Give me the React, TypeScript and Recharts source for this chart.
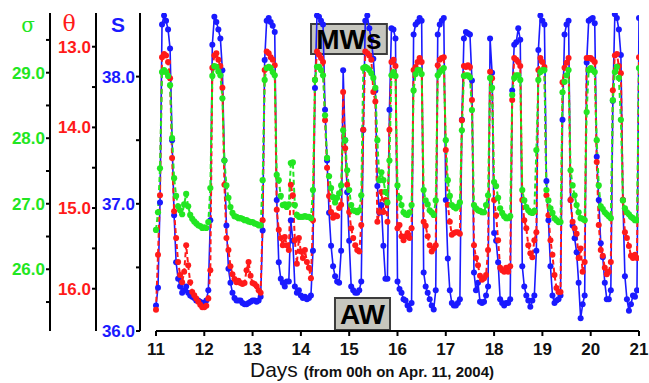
import React from 'react';
import { ComposedChart, Line, XAxis, YAxis, ReferenceLine, ReferenceArea } from 'recharts';

const FONT = "Arial, 'Liberation Sans', Helvetica, sans-serif";
const BLUE = '#1a1aff';
const RED = '#ff1a1a';
const GREEN = '#22e622';

// hourly samples starting at 00h on day 11
const START_DAY = 11;
const HOURS_PER_DAY = 24;

// Salinity S
const SALINITY = [
  36.20, 36.34, 37.01, 38.41, 38.48, 38.44, 38.37, 38.22, 37.50, 36.91, 36.54, 36.41, 36.35, 36.30, 36.32, 36.35, 36.30, 36.28, 36.27, 36.26, 36.24, 36.24, 36.23, 36.22,
  36.22, 36.24, 36.32, 36.87, 38.25, 38.47, 38.43, 38.37, 38.30, 38.05, 37.34, 36.83, 36.49, 36.38, 36.30, 36.26, 36.24, 36.24, 36.24, 36.22, 36.21, 36.21, 36.22, 36.23,
  36.24, 36.24, 36.23, 36.24, 36.27, 36.79, 38.13, 38.44, 38.46, 38.43, 38.40, 38.35, 37.03, 36.54, 36.41, 36.38, 36.35, 36.39, 36.39, 36.87, 36.71, 36.35, 36.30, 36.32,
  36.28, 36.26, 36.27, 36.25, 36.26, 36.28, 36.63, 37.91, 38.48, 38.47, 38.44, 38.41, 37.74, 37.34, 36.93, 36.67, 36.51, 36.43, 36.39, 36.38, 36.63, 38.05, 37.50, 37.09,
  36.71, 36.35, 36.32, 36.30, 36.30, 36.32, 36.39, 37.58, 38.44, 38.48, 38.38, 38.29, 38.14, 37.89, 37.14, 36.93, 36.99, 36.67, 36.41, 36.41, 37.74, 38.38, 38.37, 38.30,
  36.39, 36.33, 36.30, 36.25, 36.24, 36.20, 36.17, 36.22, 38.33, 38.41, 38.43, 38.46, 38.44, 36.46, 36.35, 36.30, 36.25, 36.20, 36.17, 36.32, 38.33, 38.41, 38.44,
  38.46, 37.03, 36.57, 36.32, 36.22, 36.20, 36.20, 36.22, 36.25, 37.66, 38.30, 38.35, 38.34, 38.33, 37.97, 36.46, 36.32, 36.38, 36.23, 36.22, 36.23, 36.28, 36.35, 38.30,
  38.03, 36.77, 36.71, 36.54, 36.25, 36.22, 36.20, 36.22, 36.22, 36.25, 37.89, 38.25, 38.27, 38.38, 38.29, 36.51, 36.35, 36.28, 36.24, 36.19, 36.24, 36.28, 36.63, 38.21,
  38.48, 38.44, 38.41, 37.18, 36.87, 36.51, 36.28, 36.22, 36.24, 36.25, 36.28, 37.66, 38.33, 38.41, 38.44, 37.03, 36.83, 36.73, 36.62, 36.38, 36.10, 36.21, 36.28, 38.11,
  38.44, 38.45, 38.46, 38.42, 37.37, 37.03, 36.69, 36.58, 36.38, 36.25, 36.25, 36.32, 37.81, 38.49, 38.46, 38.37, 38.17, 37.03, 36.43, 36.25, 36.16, 36.21, 36.28, 36.27, 36.32, 38.46,
];

// Potential temperature theta
const THETA = [
  16.26, 15.58, 14.84, 13.13, 13.09, 13.11, 13.19, 13.39, 14.38, 15.04, 15.37, 15.67, 15.83, 15.92, 15.79, 15.46, 15.71, 15.92, 16.04, 16.08, 16.12, 16.16, 16.20, 16.23,
  16.23, 16.21, 16.12, 15.77, 13.26, 13.11, 13.08, 13.16, 13.24, 13.51, 14.71, 15.37, 15.52, 15.72, 15.82, 15.88, 15.92, 15.90, 15.93, 15.94, 15.93, 15.77, 15.67, 15.84,
  15.93, 15.94, 15.97, 16.02, 16.05, 15.15, 13.29, 13.06, 13.08, 13.13, 13.16, 13.23, 15.02, 15.27, 15.37, 15.46, 15.36, 15.46, 15.52, 14.71, 14.84, 15.40, 15.69, 15.37,
  15.54, 15.62, 15.52, 15.67, 15.74, 15.87, 15.15, 13.41, 13.06, 13.10, 13.14, 13.19, 13.91, 14.50, 14.85, 15.05, 15.12, 15.09, 15.10, 15.00, 14.96, 13.56, 14.26, 14.71,
  15.05, 15.25, 15.37, 15.46, 15.52, 15.54, 15.21, 14.03, 13.06, 13.08, 13.11, 13.16, 13.56, 13.68, 15.17, 15.05, 14.80, 15.05, 14.90, 15.17, 14.03, 13.19, 13.16, 13.24,
  15.25, 15.21, 15.35, 15.40, 15.35, 15.31, 15.37, 15.25, 13.29, 13.25, 13.19, 13.14, 13.19, 15.17, 15.22, 15.35, 15.46, 15.54, 15.50, 15.46, 13.23, 13.16, 13.14,
  13.13, 14.28, 14.96, 15.17, 15.33, 15.31, 15.30, 15.30, 15.32, 13.91, 13.24, 13.25, 13.23, 13.25, 13.66, 15.46, 15.62, 15.71, 15.84, 15.89, 15.87, 15.83, 15.52, 13.31,
  13.39, 14.90, 15.09, 15.40, 15.74, 15.77, 15.79, 15.74, 15.79, 15.72, 13.66, 13.14, 13.16, 13.19, 13.24, 14.90, 15.15, 15.25, 15.46, 15.56, 15.61, 15.40, 15.30, 13.29,
  13.14, 13.19, 13.25, 14.84, 15.09, 15.40, 15.58, 15.83, 15.99, 16.04, 16.04, 13.44, 13.26, 13.20, 13.14, 14.90, 15.17, 15.25, 15.32, 15.62, 15.50, 15.79, 15.67, 13.14,
  13.14, 13.14, 13.16, 13.19, 14.43, 15.21, 15.52, 15.59, 15.74, 15.82, 15.79, 15.67, 13.54, 13.11, 13.09, 13.24, 13.33, 14.90, 15.30, 15.37, 15.47, 15.59, 15.62, 15.58, 15.62, 13.13,
];

// Potential density anomaly sigma
const SIGMA = [
  26.60, 26.87, 27.54, 29.01, 29.04, 29.01, 28.95, 28.81, 28.00, 27.39, 27.12, 26.96, 26.90, 26.84, 26.99, 27.15, 26.96, 26.83, 26.77, 26.73, 26.70, 26.67, 26.66, 26.63,
  26.64, 26.63, 26.72, 27.24, 28.95, 29.10, 29.09, 29.02, 28.96, 28.61, 27.66, 27.28, 27.09, 26.95, 26.86, 26.81, 26.80, 26.78, 26.78, 26.77, 26.75, 26.75, 26.73, 26.72,
  26.72, 26.70, 26.69, 26.67, 26.67, 27.36, 28.89, 29.07, 29.09, 29.07, 29.01, 28.96, 27.44, 27.36, 27.12, 26.98, 26.99, 26.95, 26.99, 27.62, 27.63, 26.98, 26.83, 26.80,
  26.80, 26.80, 26.81, 26.80, 26.80, 26.78, 27.21, 28.89, 29.09, 29.09, 29.04, 28.96, 28.35, 27.70, 27.42, 27.24, 27.10, 27.02, 27.09, 27.16, 27.28, 28.12, 27.97, 27.51,
  27.21, 26.98, 26.90, 26.89, 26.87, 26.90, 27.13, 29.07, 29.09, 29.07, 29.04, 28.99, 28.92, 28.77, 27.97, 27.36, 27.48, 27.36, 27.18, 27.02, 27.66, 28.96, 29.01, 28.95,
  27.28, 27.09, 26.98, 26.87, 26.84, 26.83, 26.87, 26.98, 28.73, 28.98, 29.04, 29.04, 28.98, 27.21, 27.05, 26.99, 26.90, 26.87, 26.83, 27.05, 28.96, 29.01, 29.04,
  29.07, 27.97, 27.36, 27.12, 26.98, 26.95, 26.93, 26.96, 27.02, 28.12, 28.95, 28.96, 28.96, 28.93, 28.43, 26.98, 26.93, 26.90, 26.89, 26.87, 26.87, 26.98, 27.13, 28.92,
  28.77, 27.33, 27.27, 27.09, 26.93, 26.86, 26.81, 26.78, 26.78, 26.81, 28.66, 28.92, 28.96, 28.96, 28.89, 27.21, 27.05, 26.95, 26.90, 26.87, 26.86, 26.89, 27.82, 28.89,
  29.01, 29.04, 29.04, 27.21, 27.05, 26.93, 26.86, 26.78, 26.75, 26.72, 26.72, 28.70, 28.86, 28.96, 29.04, 27.51, 27.28, 27.13, 26.98, 26.87, 26.78, 26.77, 26.75, 28.40,
  29.04, 29.07, 29.04, 29.01, 27.97, 27.28, 26.96, 26.92, 26.87, 26.84, 26.81, 26.78, 28.58, 29.01, 29.09, 28.92, 28.28, 27.05, 26.93, 26.87, 26.84, 26.80, 26.78, 26.75, 26.75, 29.07,
];

const DAY_TICKS = [11, 12, 13, 14, 15, 16, 17, 18, 19, 20, 21];
const S_TICKS = [36, 36.5, 37, 37.5, 38];
const THETA_TICKS = [13, 13.5, 14, 14.5, 15, 15.5, 16];
const SIGMA_TICKS = [25.5, 26, 26.5, 27, 27.5, 28, 28.5, 29, 29.5];

const X_DOMAIN = [10.669, 21];
const S_DOMAIN = [36, 38.5];
const THETA_DOMAIN = [12.582, 16.524];
const SIGMA_DOMAIN = [25.058, 29.911];

// annotation boxes (in day / salinity units)
const MWS_BOX = { x1: 14.21, x2: 15.78, y1: 38.178, y2: 38.414 };
const AW_BOX = { x1: 14.706, x2: 15.845, y1: 36.008, y2: 36.259 };

const data = SALINITY.map((s, i) => ({
  t: START_DAY + i / HOURS_PER_DAY,
  s,
  theta: THETA[i],
  sigma: SIGMA[i],
}));

const fmt = (v: number) => (Math.abs(v - Math.round(v)) < 1e-6 ? v.toFixed(1) : '');

const DaysLabel = (props: any) => {
  const vb = props.viewBox || { x: 140, y: 331, width: 499, height: 52 };
  const x = vb.x + 110;
  const y = vb.y + vb.height - 6;
  return (
    <text x={x} y={y} textAnchor="start" fontFamily={FONT} fill="#111">
      <tspan fontSize={21}>Days </tspan>
      <tspan fontSize={15} fontWeight="bold">(from 00h on Apr. 11, 2004)</tspan>
    </text>
  );
};

const axisLine = { stroke: '#000', strokeWidth: 2 };
const tickFont = { fontSize: 17, fontWeight: 'bold', fontFamily: FONT };

export default function App() {
  return (
    <div style={{ position: 'absolute', left: 0, top: 0, width: 649, height: 383, background: '#fff' }}>
      <ComposedChart width={649} height={383} data={data} margin={{ top: 13, right: 10, bottom: 0, left: 0 }}>
        <XAxis
          dataKey="t"
          type="number"
          domain={X_DOMAIN}
          allowDataOverflow
          ticks={DAY_TICKS}
          interval={0}
          height={52}
          axisLine={false}
          tickLine={{ stroke: '#000', strokeWidth: 2 }}
          tickSize={5}
          tickMargin={7}
          tick={{ fill: '#111', ...tickFont }}
          label={{ content: (p: any) => <DaysLabel {...p} /> }}
        />
        <YAxis
          yAxisId="y1S"
          type="number"
          domain={S_DOMAIN}
          allowDataOverflow
          ticks={S_TICKS}
          interval={0}
          width={44}
          tickFormatter={fmt}
          axisLine={axisLine}
          tickLine={axisLine}
          tickSize={4}
          tickMargin={1}
          tick={{ fill: BLUE, ...tickFont }}
          label={{ value: 'S', position: 'insideTop', offset: 4, fill: BLUE, fontSize: 21, fontWeight: 'bold', fontFamily: FONT }}
        />
        <YAxis
          yAxisId="y2Theta"
          type="number"
          reversed
          domain={THETA_DOMAIN}
          allowDataOverflow
          ticks={THETA_TICKS}
          interval={0}
          width={46}
          tickFormatter={fmt}
          axisLine={axisLine}
          tickLine={axisLine}
          tickSize={4}
          tickMargin={1}
          tick={{ fill: RED, ...tickFont }}
          label={{ value: 'θ', position: 'insideTop', offset: 2, fill: RED, fontSize: 22, fontFamily: "'DejaVu Serif', serif", dx: -4 }}
        />
        <YAxis
          yAxisId="y3Sigma"
          type="number"
          domain={SIGMA_DOMAIN}
          allowDataOverflow
          ticks={SIGMA_TICKS}
          interval={0}
          width={50}
          tickFormatter={fmt}
          axisLine={axisLine}
          tickLine={axisLine}
          tickSize={4}
          tickMargin={1}
          tick={{ fill: GREEN, ...tickFont }}
          label={{ value: 'σ', position: 'insideTop', offset: 5, fill: GREEN, fontSize: 20, fontFamily: "'DejaVu Serif', serif", dx: 3 }}
        />
        <ReferenceLine
          yAxisId="y1S"
          segment={[{ x: 11, y: 36 }, { x: 21, y: 36 }]}
          stroke="#000"
          strokeWidth={2}
          ifOverflow="visible"
        />
        <Line
          yAxisId="y1S"
          dataKey="s"
          type="linear"
          stroke={BLUE}
          strokeWidth={1.6}
          dot={{ r: 3, fill: BLUE, stroke: BLUE, strokeWidth: 0 }}
          activeDot={false}
          isAnimationActive={false}
        />
        <Line
          yAxisId="y2Theta"
          dataKey="theta"
          type="linear"
          stroke={RED}
          strokeWidth={2}
          strokeDasharray="5 3"
          dot={{ r: 3, fill: RED, stroke: RED, strokeWidth: 0 }}
          activeDot={false}
          isAnimationActive={false}
        />
        <Line
          yAxisId="y3Sigma"
          dataKey="sigma"
          type="linear"
          stroke={GREEN}
          strokeWidth={2}
          strokeDasharray="5 3"
          dot={{ r: 3.1, fill: GREEN, stroke: GREEN, strokeWidth: 0 }}
          activeDot={false}
          isAnimationActive={false}
        />
        <ReferenceArea
          yAxisId="y1S"
          {...MWS_BOX}
          fill="#c6c6be"
          fillOpacity={1}
          stroke="#3c3c3c"
          strokeWidth={2}
          ifOverflow="visible"
          label={{ value: 'MWs', position: 'center', fill: '#000', fontSize: 28, fontWeight: 'bold', fontFamily: FONT }}
        />
        <ReferenceArea
          yAxisId="y1S"
          {...AW_BOX}
          fill="#c6c6be"
          fillOpacity={1}
          stroke="#3c3c3c"
          strokeWidth={2}
          ifOverflow="visible"
          label={{ value: 'AW', position: 'center', fill: '#000', fontSize: 28, fontWeight: 'bold', fontFamily: FONT }}
        />
      </ComposedChart>
    </div>
  );
}
